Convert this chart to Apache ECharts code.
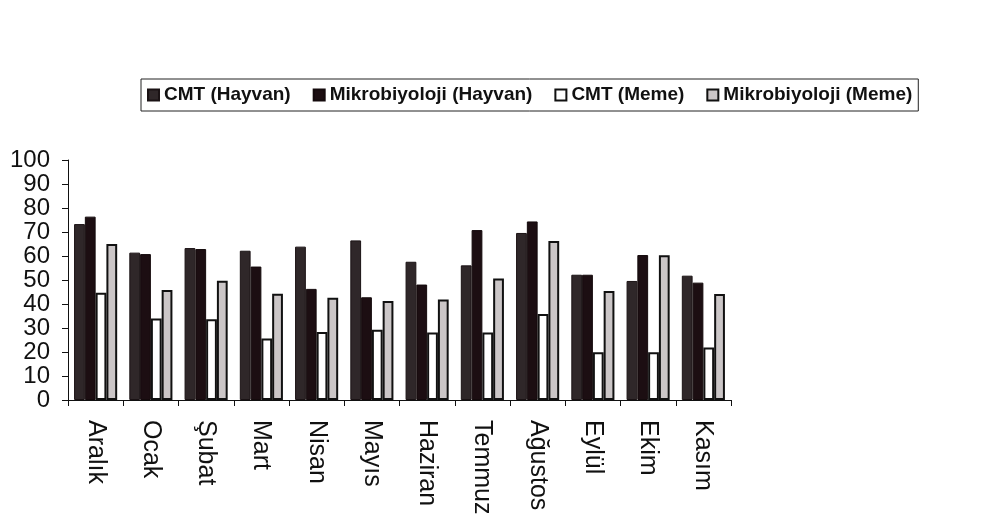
<!DOCTYPE html>
<html>
<head>
<meta charset="utf-8">
<script src="https://cdn.jsdelivr.net/npm/echarts@6/dist/echarts.min.js"></script>
<style>
html,body{margin:0;padding:0;background:#fff;}
#c{width:998px;height:527px;}
</style>
</head>
<body>
<div id="c"></div>
<script>
const categories = ['Aralık','Ocak','Şubat','Mart','Nisan','Mayıs','Haziran','Temmuz','Ağustos','Eylül','Ekim','Kasım'];
const seriesNames = ['CMT (Hayvan)','Mikrobiyoloji (Hayvan)','CMT (Meme)','Mikrobiyoloji (Meme)'];
const cmtHayvan   = [73.3, 61.4, 63.3, 62.2, 63.9, 66.5, 57.6, 56.1, 69.6, 52.2, 49.6, 51.8];
const mikroHayvan = [76.4, 60.8, 62.9, 55.6, 46.3, 42.8, 48.1, 70.8, 74.4, 52.2, 60.4, 48.9];
const cmtMeme     = [44.7, 34.0, 33.6, 25.6, 28.3, 29.3, 28.1, 28.1, 35.8, 19.9, 19.9, 21.9];
const mikroMeme   = [65.0, 45.8, 49.7, 44.3, 42.6, 41.3, 41.9, 50.6, 66.3, 45.4, 60.3, 44.2];
const yTicks = [0,10,20,30,40,50,60,70,80,90,100];

const FONT = '"Liberation Sans", Arial, sans-serif';
const styles = [
  {color:'#2f2729', borderColor:'#1a1214', borderWidth:1},
  {color:'#1c0e12', borderColor:'#140a0c', borderWidth:1},
  {color:'#ffffff', borderColor:'#111111', borderWidth:2},
  {color:'#cbc6c7', borderColor:'#111111', borderWidth:2}
];
const dataArr = [cmtHayvan, mikroHayvan, cmtMeme, mikroMeme];

const chart = echarts.init(document.getElementById('c'), null, {renderer:'canvas'});
chart.setOption({
  backgroundColor:'#ffffff',
  animation:false,
  legend:{
    data:seriesNames,
    left:141, top:79,
    padding:[6,6,6,6],
    icon:'rect',
    itemGap:22, itemWidth:11, itemHeight:11,
    borderColor:'#222', borderWidth:1,
    textStyle:{fontFamily:FONT, fontSize:19, fontWeight:'bold', color:'#111', lineHeight:20}
  },
  grid:{left:68, right:267, top:160, bottom:127, containLabel:false},
  xAxis:{
    type:'category',
    data:categories,
    axisLine:{lineStyle:{color:'#111', width:1}},
    axisTick:{show:true, length:6, lineStyle:{color:'#111'}},
    axisLabel:{rotate:-90, fontFamily:FONT, fontSize:25, color:'#111', margin:20, interval:0}
  },
  yAxis:{
    type:'value', min:0, max:100, interval:10,
    axisLine:{show:true, lineStyle:{color:'#111', width:1}},
    axisTick:{show:true, length:6, lineStyle:{color:'#111'}},
    splitLine:{show:false},
    axisLabel:{fontFamily:FONT, fontSize:24, color:'#111', margin:18,
      formatter:function(v){return yTicks.indexOf(v)>=0 ? String(v) : '';}}
  },
  series: seriesNames.map(function(n,i){
    return {name:n, type:'bar', data:dataArr[i], barGap:'0%', barCategoryGap:'22%',
      itemStyle:styles[i]};
  })
});
</script>
</body>
</html>
